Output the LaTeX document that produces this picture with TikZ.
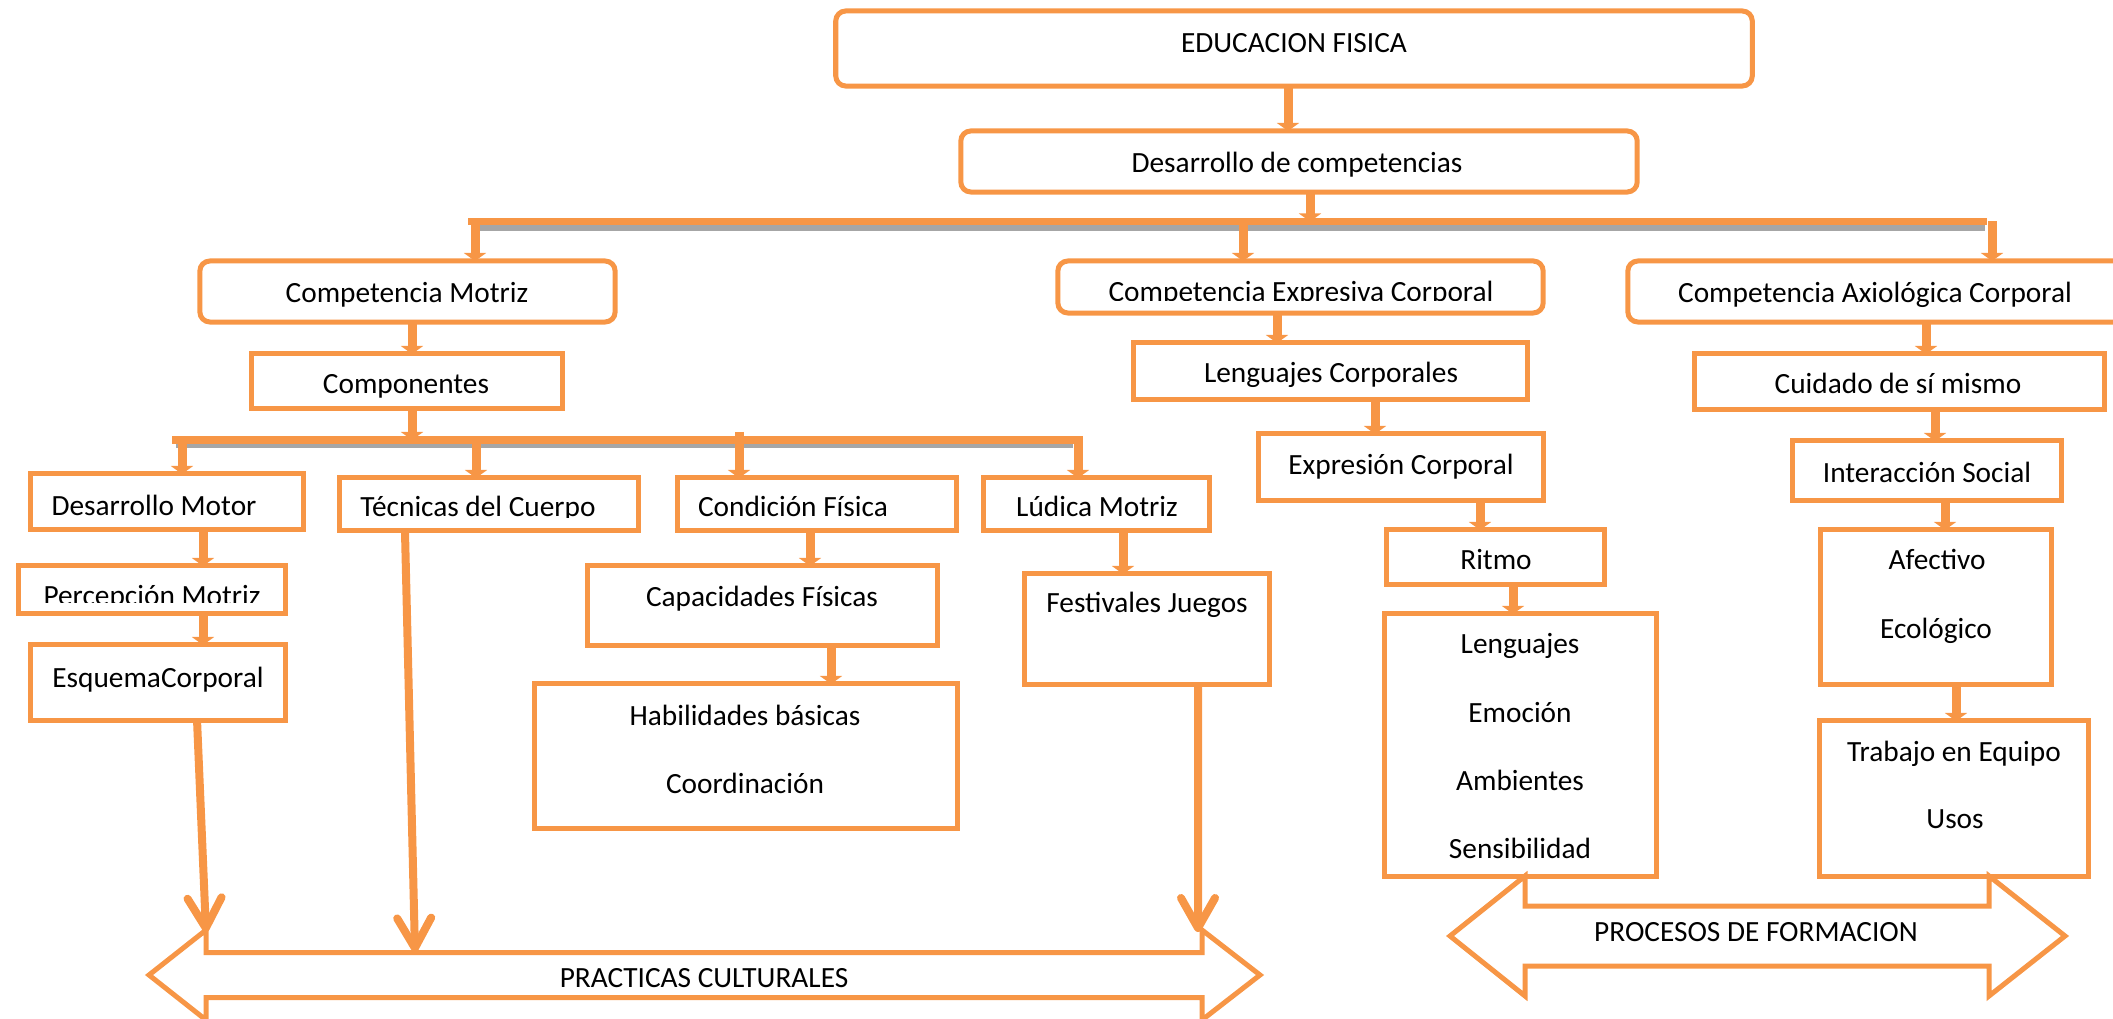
\documentclass[tikz,border=0pt]{standalone}
\usepackage{fontspec}
\setmainfont{Carlito}
\usetikzlibrary{arrows.meta,calc}
\definecolor{orn}{HTML}{F79646}
\definecolor{shd}{HTML}{A6A6A6}
\newcommand\mkbox[6][box]{%
  \pgfmathsetmacro\mbw{(#5-#3)/100}%
  \pgfmathsetmacro\mbh{(#6-#4)/100}%
  \node[#1,minimum width=\mbw cm,minimum height=\mbh cm] (#2) at ({(#3+#5)/2},{(#4+#6)/2}) {};}
\begin{document}
\begin{tikzpicture}[x=0.01cm,y=-0.01cm,
  box/.style={draw=orn,line width=0.05cm,fill=white,inner sep=0pt,outer sep=0pt},
  rbox/.style={box,rounded corners=0.1cm},
  txt/.style={inner sep=0pt,outer sep=0pt,font=\fontsize{8.34}{10}\selectfont,anchor=base},
  arr/.style={draw=orn,line width=0.09cm,-{Triangle[width=0.22cm,length=0.08cm]}},
  lng/.style={draw=orn,line width=0.08cm,-{Straight Barb[round,length=0.3cm,width=0.34cm]}},
  barline/.style={draw=orn,line width=0.07cm},
  shadowline/.style={draw=shd,line width=0.055cm},
  dbl/.style={draw=orn,line width=0.05cm,fill=white,line join=miter}]
\useasboundingbox (0,0) rectangle (2113,1019);

% ---- boxes
\mkbox[rbox]{edu}{836}{11}{1752}{86}
\mkbox[rbox]{des}{961}{131}{1637}{192}
\mkbox[rbox]{cm}{200}{261}{615}{322}
\mkbox[rbox]{ce}{1058}{261}{1543}{313}
\mkbox[rbox]{ca}{1628}{261}{2130}{322}
\mkbox{comp}{252}{354}{562}{408}
\mkbox{dm}{31}{474}{303}{529}
\mkbox{tc}{340}{478}{638}{530}
\mkbox{cf}{678}{478}{956}{530}
\mkbox{lm}{984}{478}{1209}{530}
\mkbox{pm}{19}{566}{285}{613}
\mkbox{esq}{31}{645}{285}{720}
\mkbox{cap}{588}{566}{937}{645}
\mkbox{hab}{535}{684}{957}{828}
\mkbox{fj}{1025}{574}{1269}{684}
\mkbox{lc}{1134}{343}{1527}{399}
\mkbox{ec}{1259}{434}{1543}{500}
\mkbox{ri}{1387}{530}{1604}{584}
\mkbox{le}{1385}{614}{1656}{876}
\mkbox{cu}{1695}{354}{2104}{409}
\mkbox{is}{1793}{441}{2061}{500}
\mkbox{ae}{1821}{530}{2051}{684}
\mkbox{tr}{1820}{721}{2088}{876}

% ---- double arrows
\draw[dbl] (149,975) -- (206,930) -- (206,952.5) -- (1202,952.5) -- (1202,930) -- (1260,975)
  -- (1202,1020) -- (1202,997.5) -- (206,997.5) -- (206,1020) -- cycle;
\draw[dbl] (1450,936) -- (1525,876) -- (1525,906) -- (1989,906) -- (1989,876) -- (2065,936)
  -- (1989,996) -- (1989,966) -- (1525,966) -- (1525,996) -- cycle;
\coordinate (pcA) at (206,932);
\coordinate (pcB) at (415,952);
\coordinate (pcC) at (1198,932);

% ---- texts
\node[txt] (t-edu) at (1294,53) {EDUCACION FISICA};
\node[txt] (t-des) at (1297,173) {Desarrollo de competencias};
\node[txt] (t-cm) at (407,303) {Competencia Motriz};
\node[txt] (t-ca) at (1875,303) {Competencia Axiológica Corporal};
\begin{scope}
  \clip (1062,270) rectangle (1540,301);
  \node[txt] (t-ce) at (1301,302) {Competencia Expresiva Corporal};
\end{scope}
\node[txt] (t-comp) at (406,394) {Componentes};
\node[txt] (t-dm) at (154,515) {Desarrollo Motor};
\begin{scope}
  \clip (343,485) rectangle (635,517.5);
  \node[txt] (t-tc) at (478,517) {Técnicas del Cuerpo};
\end{scope}
\node[txt] (t-cf) at (793,517) {Condición Física};
\node[txt] (t-lm) at (1097,517) {Lúdica Motriz};
\begin{scope}
  \clip (22,570) rectangle (282,602);
  \node[txt] (t-pm) at (152,605) {Percepción Motriz};
\end{scope}
\node[txt] (t-esq) at (158,687) {EsquemaCorporal};
\node[txt] (t-cap) at (762,606) {Capacidades Físicas};
\node[txt] (t-hab1) at (745,725) {Habilidades básicas};
\node[txt] (t-hab2) at (745,793) {Coordinación};
\node[txt] (t-fj) at (1147,613) {Festivales Juegos};
\node[txt] (t-lc) at (1331,383) {Lenguajes Corporales};
\node[txt] (t-ec) at (1401,475) {Expresión Corporal};
\node[txt] (t-ri) at (1496,570) {Ritmo};
\node[txt] (t-le1) at (1520,653) {Lenguajes};
\node[txt] (t-le2) at (1520,722) {Emoción};
\node[txt] (t-le3) at (1520,790) {Ambientes};
\node[txt] (t-le4) at (1520,858) {Sensibilidad};
\node[txt] (t-cu) at (1898,394) {Cuidado de sí mismo};
\node[txt] (t-is) at (1927,482) {Interacción Social};
\node[txt] (t-ae1) at (1937,570) {Afectivo};
\node[txt] (t-ae2) at (1936,638) {Ecológico};
\node[txt] (t-tr1) at (1954,761) {Trabajo en Equipo};
\node[txt] (t-tr2) at (1955,828) {Usos};
\node[txt] (t-pc) at (704,987) {PRACTICAS CULTURALES};
\node[txt] (t-pf) at (1756,941) {PROCESOS DE FORMACION};

% ---- bars
\coordinate (b1L) at (468,221.5);
\coordinate (b1R) at (1987,221.5);
\coordinate (b2L) at (172,440);
\coordinate (b2R) at (1083,440);
\draw[shadowline] ([shift={(4,6.5)}]b1L) -- ([shift={(-2,6.5)}]b1R);
\draw[barline] (b1L) -- (b1R);
\draw[shadowline] ([shift={(4,5.5)}]b2L) -- ([shift={(-10,5.5)}]b2R);
\draw[barline] (b2L) -- (b2R);

% ---- x positions of connectors
\coordinate (x1) at (1288,0);
\coordinate (x2) at (1310,0);
\coordinate (x3) at (475,0);
\coordinate (x4) at (1243,0);
\coordinate (x5) at (1992,0);
\coordinate (x6) at (412,0);
\coordinate (x7) at (182,0);
\coordinate (x8) at (476,0);
\coordinate (x9) at (1078,0);
\coordinate (x10) at (203,0);
\coordinate (x11) at (810,0);
\coordinate (x12) at (831,0);
\coordinate (x13) at (1123,0);
\coordinate (x14) at (1277,0);
\coordinate (x15) at (1375,0);
\coordinate (x16) at (1480,0);
\coordinate (x17) at (1513,0);
\coordinate (x18) at (1926,0);
\coordinate (x19) at (1935,0);
\coordinate (x20) at (1945,0);
\coordinate (x21) at (1956,0);
\coordinate (stub) at (739,432);

% ---- connectors
\draw[arr] (x1 |- edu.south) -- (x1 |- des.north);
\draw[arr] (x2 |- des.south) -- (x2 |- b1L);
\draw[arr] (x3 |- b1L) -- (x3 |- cm.north);
\draw[arr] (x4 |- b1L) -- (x4 |- ce.north);
\draw[arr] (x5 |- b1R) -- (x5 |- ca.north);
\draw[arr] (x6 |- cm.south) -- (x6 |- comp.north);
\draw[arr] (x6 |- comp.south) -- (x6 |- b2L);
\draw[arr] (x7 |- b2L) -- (x7 |- dm.north);
\draw[arr] (x8 |- b2L) -- (x8 |- tc.north);
\draw[arr] (stub) -- (stub |- cf.north);
\draw[arr] (x9 |- b2R) -- (x9 |- lm.north);
\draw[arr] (x10 |- dm.south) -- (x10 |- pm.north);
\draw[arr] (x10 |- pm.south) -- (x10 |- esq.north);
\draw[arr] (x11 |- cf.south) -- (x11 |- cap.north);
\draw[arr] (x12 |- cap.south) -- (x12 |- hab.north);
\draw[arr] (x13 |- lm.south) -- (x13 |- fj.north);
\draw[arr] (x14 |- ce.south) -- (x14 |- lc.north);
\draw[arr] (x15 |- lc.south) -- (x15 |- ec.north);
\draw[arr] (x16 |- ec.south) -- (x16 |- ri.north);
\draw[arr] (x17 |- ri.south) -- (x17 |- le.north);
\draw[arr] (x18 |- ca.south) -- (x18 |- cu.north);
\draw[arr] (x19 |- cu.south) -- (x19 |- is.north);
\draw[arr] (x20 |- is.south) -- (x20 |- ae.north);
\draw[arr] (x21 |- ae.south) -- (x21 |- tr.north);

\draw[lng] ([xshift=0.39cm]esq.south) -- (pcA);
\draw[lng] ([xshift=-0.84cm]tc.south) -- (pcB);
\draw[lng] ([xshift=0.51cm]fj.south) -- (pcC);
\end{tikzpicture}
\end{document}
